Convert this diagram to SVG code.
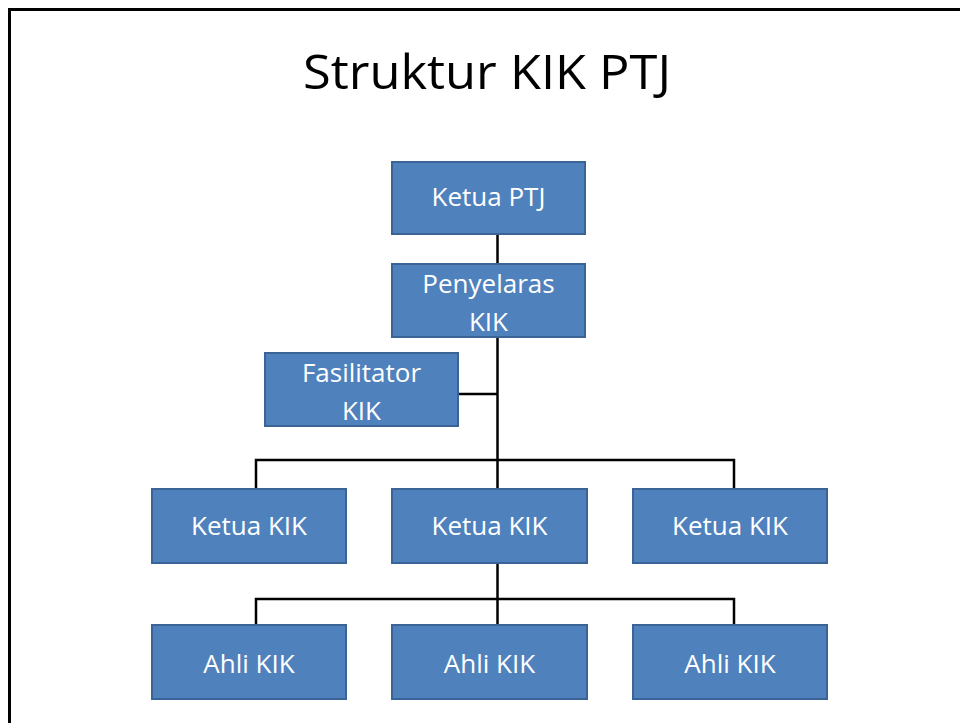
<svg xmlns="http://www.w3.org/2000/svg" width="960" height="723" viewBox="0 0 960 723">
<style>
.box{fill:#4F81BD;stroke:#3B6496;stroke-width:2}
.lbl{font-family:"Open Sans","Liberation Sans",sans-serif;font-size:26px;fill:#FFFFFF;text-anchor:middle}
.con{stroke:#000;stroke-width:2.5;fill:none}
</style>
<rect x="0" y="0" width="960" height="723" fill="#FFFFFF"/>
<path d="M9.5,723 V9.5 H960" fill="none" stroke="#000" stroke-width="3"/>
<text x="487" y="89" font-family="'Open Sans','Liberation Sans',sans-serif" font-size="48" fill="#000" text-anchor="middle" textLength="368" lengthAdjust="spacingAndGlyphs">Struktur KIK PTJ</text>
<g id="connectors">
<path class="con" d="M497.5,234 V489"/>
<path class="con" d="M458,394 H497.5"/>
<path class="con" d="M256,489 V460 H734 V489"/>
<path class="con" d="M497.5,563 V625"/>
<path class="con" d="M256,625 V599 H734 V625"/>
</g>
<g id="ketua-ptj"><rect class="box" x="392" y="162" width="193" height="72"/><text class="lbl" x="488.5" y="206">Ketua PTJ</text></g>
<g id="penyelaras-kik"><rect class="box" x="392" y="264" width="193" height="73"/><text class="lbl" x="488.5" y="293">Penyelaras</text><text class="lbl" x="488.5" y="331">KIK</text></g>
<g id="fasilitator-kik"><rect class="box" x="265" y="353" width="193" height="73"/><text class="lbl" x="361.5" y="382">Fasilitator</text><text class="lbl" x="361.5" y="420">KIK</text></g>
<g id="ketua-kik-1"><rect class="box" x="152" y="489" width="194" height="74"/><text class="lbl" x="249" y="535">Ketua KIK</text></g>
<g id="ketua-kik-2"><rect class="box" x="392" y="489" width="195" height="74"/><text class="lbl" x="489.5" y="535">Ketua KIK</text></g>
<g id="ketua-kik-3"><rect class="box" x="633" y="489" width="194" height="74"/><text class="lbl" x="730" y="535">Ketua KIK</text></g>
<g id="ahli-kik-1"><rect class="box" x="152" y="625" width="194" height="74"/><text class="lbl" x="249" y="673">Ahli KIK</text></g>
<g id="ahli-kik-2"><rect class="box" x="392" y="625" width="195" height="74"/><text class="lbl" x="489.5" y="673">Ahli KIK</text></g>
<g id="ahli-kik-3"><rect class="box" x="633" y="625" width="194" height="74"/><text class="lbl" x="730" y="673">Ahli KIK</text></g>
</svg>
